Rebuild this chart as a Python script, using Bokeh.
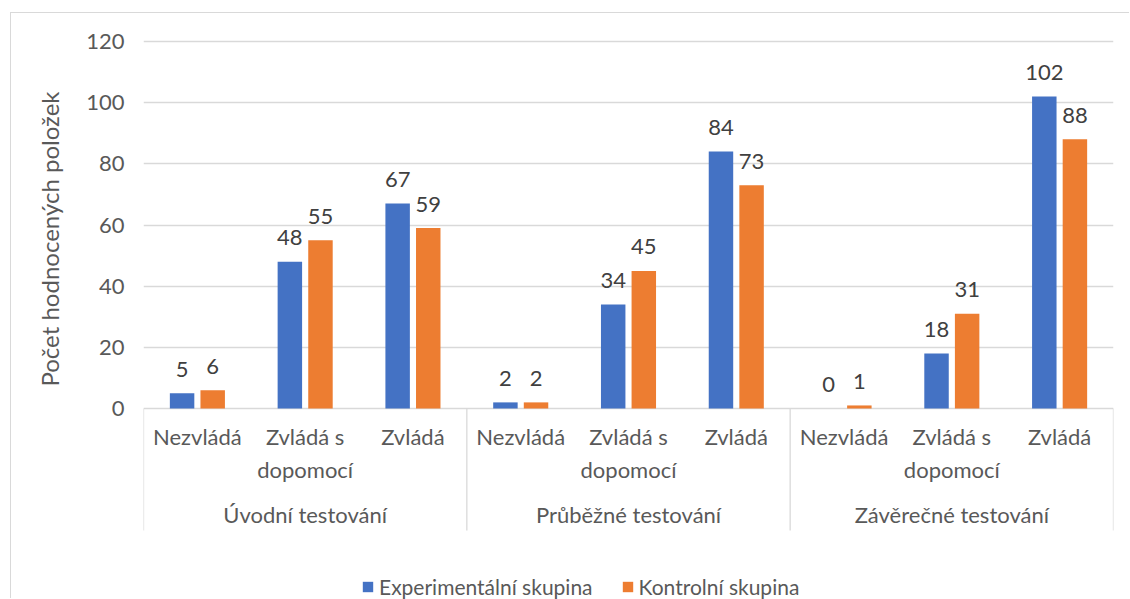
import math
from bokeh.plotting import figure
from bokeh.models import Range1d, FixedTicker, Legend, LegendItem, ColumnDataSource, Title
from bokeh.core.properties import value
from bokeh.embed import file_html
from bokeh.resources import INLINE

# ---- data ----
groups = ["Úvodní testování", "Průběžné testování", "Závěrečné testování"]
levels = ["Nezvládá", "Zvládá s\ndopomocí", "Zvládá"]
series_names = ["Experimentální skupina", "Kontrolní skupina"]
experimental = [5, 48, 67, 2, 34, 84, 0, 18, 102]
control = [6, 55, 59, 2, 45, 73, 1, 31, 88]
y_ticks = [0, 20, 40, 60, 80, 100, 120]
y_title = "Počet hodnocených položek"

# ---- styles ----
BLUE = "#4472C4"
ORANGE = "#ED7D31"
GRID = "#D9D9D9"
TXT = "#595959"
LBL = "#404040"
FONT = "Lato"
FS = "22px"
OFF = 0.142
BW = 0.227
AXIS_DEPTH = 39.891   # depth of the category-axis separators below zero (data units)

n = len(levels)
ncat = len(groups) * n
Y0 = -62.45
Y1 = 122.616

p = figure(width=1119, height=586, output_backend="svg", toolbar_location=None,
           x_range=Range1d(0, ncat), y_range=Range1d(Y0, Y1),
           x_axis_location=None,
           min_border_left=132, min_border_right=17, min_border_top=20, min_border_bottom=0,
           outline_line_color=None)
p.styles = {"border-left": "1px solid #D9D9D9", "border-top": "1px solid #D9D9D9",
            "margin-left": "10px", "margin-top": "12px"}

p.xgrid.visible = False
p.ygrid.ticker = FixedTicker(ticks=y_ticks)
p.ygrid.grid_line_color = GRID
p.ygrid.grid_line_width = 1.3
p.yaxis.ticker = FixedTicker(ticks=y_ticks)
p.yaxis.axis_line_color = None
p.yaxis.major_tick_line_color = None
p.yaxis.minor_tick_line_color = None
p.yaxis.major_tick_out = 0
p.yaxis.major_tick_in = 0
p.yaxis.minor_tick_out = 0
p.yaxis.major_label_standoff = 19
p.yaxis.major_label_text_font = FONT
p.yaxis.major_label_text_font_size = FS
p.yaxis.major_label_text_color = TXT

centers = [g * n + j + 0.5 for g in range(len(groups)) for j in range(n)]
src = ColumnDataSource(dict(
    xc=centers,
    xe=[c - OFF for c in centers],
    xk=[c + OFF for c in centers],
    exp=experimental,
    ctl=control,
    le=[str(v) for v in experimental],
    lk=[str(v) for v in control],
    cat=[levels[j] for g in range(len(groups)) for j in range(n)],
))

r1 = p.vbar(x="xe", top="exp", width=BW, source=src, fill_color=BLUE, line_color=None)
r2 = p.vbar(x="xk", top="ctl", width=BW, source=src, fill_color=ORANGE, line_color=None)

for xcol, ycol, tcol in (("xe", "exp", "le"), ("xk", "ctl", "lk")):
    p.text(x=xcol, y=ycol, text=tcol, source=src, text_align="center",
           text_baseline="alphabetic", y_offset=-24, text_font=value(FONT),
           text_font_size=FS, text_color=LBL)

# category axis
bounds = [g * n for g in range(len(groups) + 1)]
p.segment(x0=bounds, y0=[0] * len(bounds), x1=bounds, y1=[-AXIS_DEPTH] * len(bounds),
          line_color=GRID, line_width=1.3)
p.text(x="xc", y=0, text="cat", source=src, text_align="center", text_baseline="top",
       y_offset=14, text_font=value(FONT), text_font_size=FS, text_color=TXT,
       text_line_height=1.24)
gsrc = ColumnDataSource(dict(x=[g * n + n / 2 for g in range(len(groups))], t=groups))
p.text(x="x", y=0, text="t", source=gsrc, text_align="center", text_baseline="middle",
       y_offset=106, text_font=value(FONT), text_font_size=FS, text_color=TXT)

# y-axis title
p.add_layout(Title(text=y_title, align="right", vertical_align="top", offset=58, standoff=36,
                   text_font=FONT, text_font_size="24px", text_color=TXT,
                   text_font_style="normal"), "left")

legend = Legend(items=[LegendItem(label=series_names[0], renderers=[r1]),
                       LegendItem(label=series_names[1], renderers=[r2])],
                orientation="horizontal", location=(218, 0),
                glyph_width=13, glyph_height=13, label_standoff=5, spacing=28,
                padding=0, margin=0, border_line_color=None, background_fill_alpha=0,
                label_text_font=FONT, label_text_font_size="21px", label_text_color=TXT)
p.add_layout(legend)

open("out.html", "w").write(file_html(p, INLINE))
